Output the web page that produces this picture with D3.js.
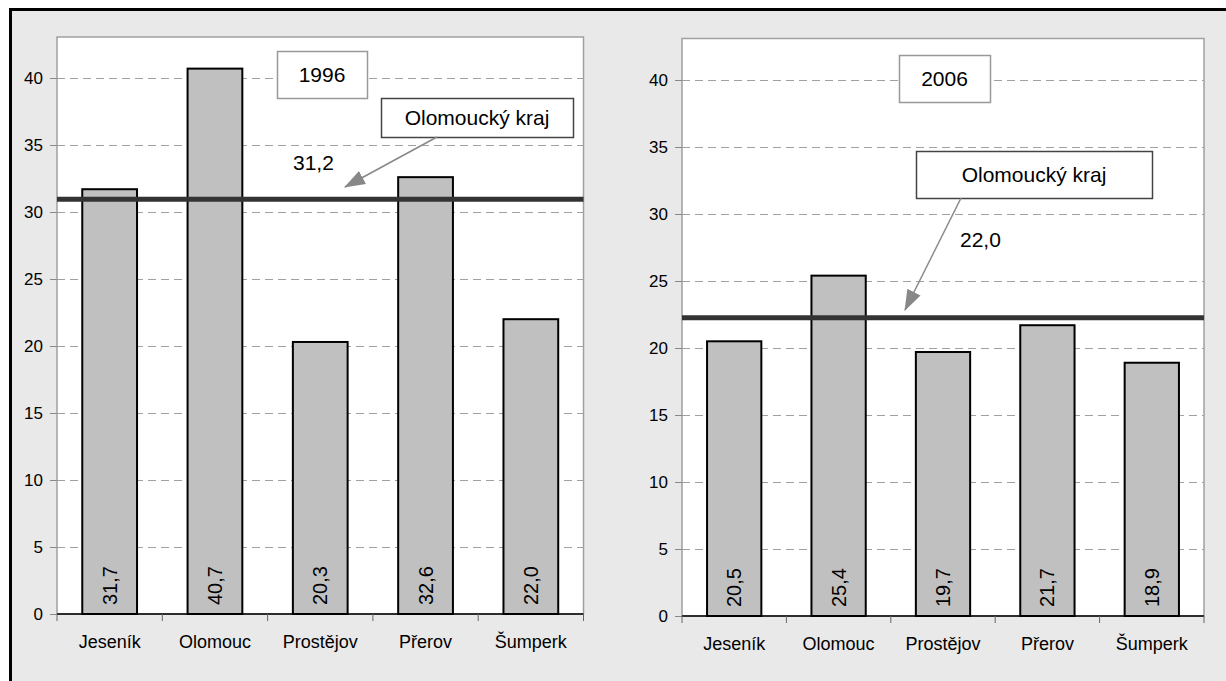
<!DOCTYPE html>
<html><head><meta charset="utf-8">
<script src="https://cdn.jsdelivr.net/npm/d3@7"></script>
<style>
html,body{margin:0;padding:0;background:#fff;}
svg{display:block;font-family:"Liberation Sans",Arial,sans-serif;}
</style></head>
<body>
<svg id="c" width="1226" height="681"></svg>
<script>
const categories = ["Jeseník","Olomouc","Prostějov","Přerov","Šumperk"];
const values1996 = [31.7, 40.7, 20.3, 32.6, 22.0];
const values2006 = [20.5, 25.4, 19.7, 21.7, 18.9];
const years = ["1996","2006"];
const regionLineValues = [30.95, 22.25];
const regionLabels = ["31,2","22,0"];
const regionName = "Olomoucký kraj";
const yTicks = [0,5,10,15,20,25,30,35,40];

const svg = d3.select("#c");
svg.append("rect").attr("x",10.5).attr("y",9.5).attr("width",1240).attr("height",700)
  .attr("fill","#e9e9e9").attr("stroke","#000").attr("stroke-width",3);

const panels = [
  {vals:values1996, x0:57, x1:583.5, y0:614, yTop:37, year:years[0], line:regionLineValues[0], lab:regionLabels[0],
   yearBox:[277,51,90,47], nameBox:[381,98,192,39], arrowFrom:[437,137], arrowTo:[345,187], labPos:[293,170]},
  {vals:values2006, x0:682, x1:1204, y0:616, yTop:38.5, year:years[1], line:regionLineValues[1], lab:regionLabels[1],
   yearBox:[899,55,91,47], nameBox:[916,151,236,47], arrowFrom:[961,198], arrowTo:[905,310], labPos:[960,247]}
];

const defs = svg.append("defs");
defs.append("marker").attr("id","ah").attr("viewBox","0 0 10 10").attr("refX",9.5).attr("refY",5)
  .attr("markerWidth",21).attr("markerHeight",21).attr("markerUnits","userSpaceOnUse").attr("orient","auto")
  .append("path").attr("d","M0,1.5 L10,5 L0,8.5 z").attr("fill","#888");

panels.forEach(p => {
  const g = svg.append("g");
  const x = d3.scaleBand().domain(categories).range([p.x0,p.x1]).paddingInner(0.48).paddingOuter(0.24);
  const xb = d3.scaleBand().domain(categories).range([p.x0,p.x1]);
  const y = d3.scaleLinear().domain([0,40]).range([p.y0,p.y0-40*13.4]);
  // plot area
  g.append("rect").attr("x",p.x0).attr("y",p.yTop).attr("width",p.x1-p.x0).attr("height",p.y0-p.yTop)
    .attr("fill","#fff").attr("stroke","#a0a0a0").attr("stroke-width",1.5);
  // gridlines
  g.selectAll(".grid").data(yTicks.filter(d=>d>0)).join("line")
    .attr("x1",p.x0).attr("x2",p.x1).attr("y1",d=>Math.round(y(d))+0.5).attr("y2",d=>Math.round(y(d))+0.5)
    .attr("stroke","#a0a0a0").attr("stroke-width",1).attr("stroke-dasharray","8,5");
  // y axis
  const ya = g.append("g").attr("transform",`translate(${p.x0},0)`)
    .call(d3.axisLeft(y).tickValues(yTicks).tickSize(7).tickPadding(7).tickFormat(d3.format("d")));
  ya.select(".domain").remove();
  ya.selectAll(".tick line").attr("stroke","#888");
  ya.selectAll(".tick text").attr("font-size",17).attr("fill","#000").attr("font-family","Liberation Sans, Arial, sans-serif");
  // bars
  g.selectAll(".bar").data(p.vals).join("rect")
    .attr("x",(d,i)=>x(categories[i])).attr("width",x.bandwidth())
    .attr("y",d=>y(d)).attr("height",d=>y(0)-y(d))
    .attr("fill","#c0c0c0").attr("stroke","#000").attr("stroke-width",2);
  // x axis
  g.append("line").attr("x1",p.x0).attr("x2",p.x1).attr("y1",p.y0).attr("y2",p.y0).attr("stroke","#000").attr("stroke-width",1.5);
  const bounds = categories.map(c=>xb(c)).concat([p.x1]);
  g.selectAll(".xt").data(bounds).join("line").attr("x1",d=>d).attr("x2",d=>d)
    .attr("y1",p.y0).attr("y2",p.y0+7).attr("stroke","#666").attr("stroke-width",1);
  g.selectAll(".xl").data(categories).join("text")
    .attr("x",d=>xb(d)+xb.bandwidth()/2).attr("y",p.y0+34).attr("text-anchor","middle")
    .attr("font-size",18).attr("fill","#000").text(d=>d);
  // value labels rotated
  g.selectAll(".vl").data(p.vals).join("text")
    .attr("transform",(d,i)=>`translate(${x(categories[i])+x.bandwidth()/2+7},${p.y0-9}) rotate(-90)`)
    .attr("font-size",20).attr("fill","#000").text(d=>d3.format(".1f")(d).replace(".",","));
  // region line
  g.append("line").attr("x1",p.x0).attr("x2",p.x1).attr("y1",y(p.line)).attr("y2",y(p.line))
    .attr("stroke","#333").attr("stroke-width",5);
  // year box
  g.append("rect").attr("x",p.yearBox[0]+0.5).attr("y",p.yearBox[1]+0.5).attr("width",p.yearBox[2]).attr("height",p.yearBox[3])
    .attr("fill","#fff").attr("stroke","#999").attr("stroke-width",1.5);
  g.append("text").attr("x",p.yearBox[0]+p.yearBox[2]/2).attr("y",p.yearBox[1]+p.yearBox[3]/2+7.5)
    .attr("text-anchor","middle").attr("font-size",21).text(p.year);
  // name box
  g.append("rect").attr("x",p.nameBox[0]+0.5).attr("y",p.nameBox[1]+0.5).attr("width",p.nameBox[2]).attr("height",p.nameBox[3])
    .attr("fill","#fff").attr("stroke","#444").attr("stroke-width",1.5);
  g.append("text").attr("x",p.nameBox[0]+p.nameBox[2]/2).attr("y",p.nameBox[1]+p.nameBox[3]/2+7.5)
    .attr("text-anchor","middle").attr("font-size",21).text(regionName);
  // arrow
  g.append("line").attr("x1",p.arrowFrom[0]).attr("y1",p.arrowFrom[1]).attr("x2",p.arrowTo[0]).attr("y2",p.arrowTo[1])
    .attr("stroke","#888").attr("stroke-width",1.5).attr("marker-end","url(#ah)");
  g.append("text").attr("x",p.labPos[0]).attr("y",p.labPos[1]).attr("font-size",21).text(p.lab);
});
</script>
</body></html>
